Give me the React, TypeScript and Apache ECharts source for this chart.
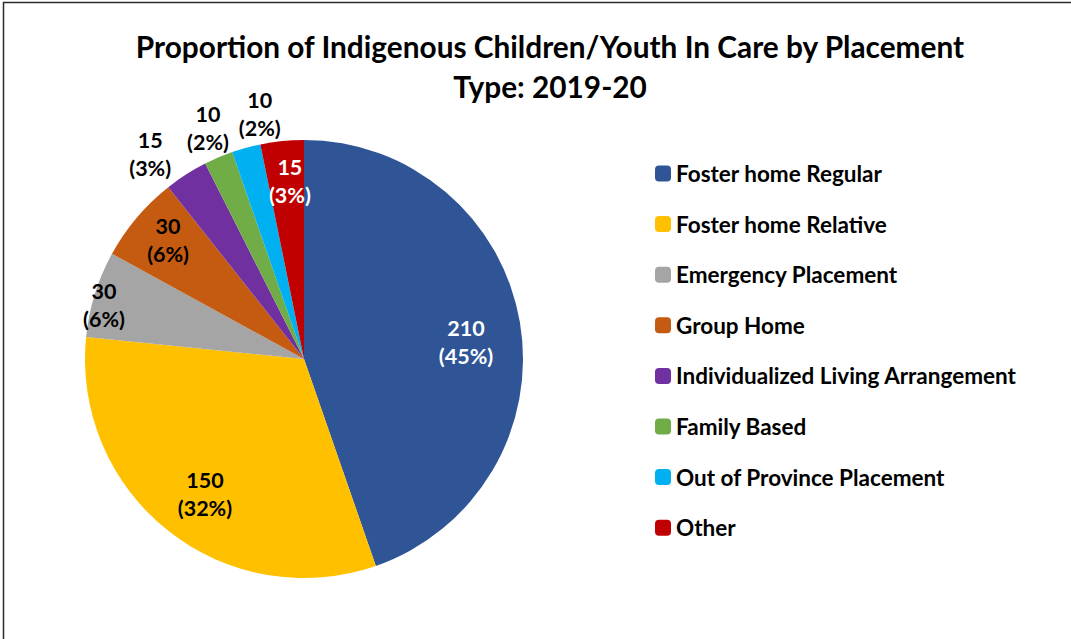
import React, { useEffect, useRef } from "react";
import * as echarts from "echarts";

const titleText = "Proportion of Indigenous Children/Youth In Care by Placement\nType: 2019-20";
const categories = [
  "Foster home Regular",
  "Foster home Relative",
  "Emergency Placement",
  "Group Home",
  "Individualized Living Arrangement",
  "Family Based",
  "Out of Province Placement",
  "Other",
];
const counts = [210, 150, 30, 30, 15, 10, 10, 15];
const percents = ["45%", "32%", "6%", "6%", "3%", "2%", "2%", "3%"];

const colors = ["#2F5597", "#FFC000", "#A5A5A5", "#C55A11", "#7030A0", "#70AD47", "#00B0F0", "#C00000"];
const labelColors = ["#fff", "#000", "#000", "#000", "#000", "#000", "#000", "#fff"];
// label placement style: distance from centre as a fraction of radius, and angular shift (deg, clockwise)
const labelRadiusFactor = [0.744, 0.764, 0.946, 0.825, 1.171, 1.142, 1.137, 0.815];
const labelAngleShift = [3.6, -2.0, -2.1, 1.0, -4.3, 0.4, 5.1, 1.2];

const FONT = "Lato, 'Open Sans', sans-serif";
const CX = 304;
const CY = 359;
const R = 219;

export default function App() {
  const ref = useRef<HTMLDivElement>(null);
  useEffect(() => {
    document.body.style.margin = "0";
    const chart = echarts.init(ref.current!, null, { renderer: "svg" });
    chart.setOption({
      animation: false,
      backgroundColor: "#fff",
      title: {
        text: titleText,
        left: 545,
        top: 21,
        textAlign: "center",
        textStyle: { fontFamily: FONT, fontWeight: "bold", fontSize: 29.8, lineHeight: 40, color: "#000" },
      },
      legend: {
        orient: "vertical",
        left: 650,
        top: 157,
        icon: "roundRect",
        itemWidth: 16,
        itemHeight: 16,
        itemGap: 27.6,
        data: categories,
        textStyle: { fontFamily: FONT, fontWeight: "bold", fontSize: 22.5, color: "#000" },
      },
      graphic: [
        {
          type: "rect",
          shape: { x: 3.5, y: 2.5, width: 1200, height: 800 },
          style: { fill: "none", stroke: "#2a2a2a", lineWidth: 1.5 },
          silent: true,
        },
      ],
      series: [
        {
          type: "pie",
          center: [CX, CY],
          radius: [0, R],
          startAngle: 90,
          clockwise: true,
          avoidLabelOverlap: false,
          labelLine: { show: false },
          label: {
            show: true,
            position: "inside",
            fontFamily: FONT,
            fontWeight: "bold",
            fontSize: 21.5,
            lineHeight: 28,
            align: "center",
            verticalAlign: "middle",
          },
          labelLayout: (params: any) => {
            const i = params.dataIndex;
            const lr = params.labelRect;
            const lx = lr.x + lr.width / 2;
            const ly = lr.y + lr.height / 2;
            const ang = Math.atan2(lx - CX, -(ly - CY)) + (labelAngleShift[i] * Math.PI) / 180;
            const f = labelRadiusFactor[i] * R;
            return { x: CX + Math.sin(ang) * f, y: CY - Math.cos(ang) * f, align: "center", verticalAlign: "middle" };
          },
          data: categories.map((name, i) => ({
            name,
            value: counts[i],
            itemStyle: { color: colors[i] },
            label: {
              color: labelColors[i],
              formatter: () => `${counts[i]}\n(${percents[i]})`,
            },
          })),
        },
      ],
    });
    return () => chart.dispose();
  }, []);
  return <div ref={ref} style={{ width: 1071, height: 639 }} />;
}
